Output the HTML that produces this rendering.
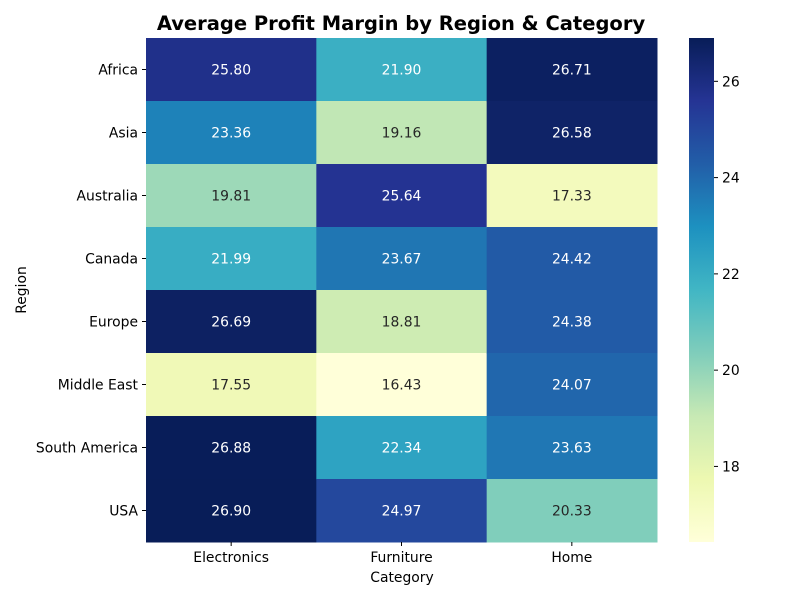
<!DOCTYPE html>
<html><head><meta charset="utf-8"><style>
body{margin:0;background:#fff;font-family:"Liberation Sans","DejaVu Sans",sans-serif;}
</style></head><body>
<svg id="chart" width="800" height="600" xmlns="http://www.w3.org/2000/svg" font-family="DejaVu Sans, Liberation Sans, sans-serif">
<defs><linearGradient id="cbgrad" x1="0" y1="1" x2="0" y2="0">
<stop offset="0" stop-color="#ffffd9"/><stop offset="0.125" stop-color="#edf8b1"/><stop offset="0.25" stop-color="#c7e9b4"/><stop offset="0.375" stop-color="#7fcdbb"/><stop offset="0.5" stop-color="#41b6c4"/><stop offset="0.625" stop-color="#1d91c0"/><stop offset="0.75" stop-color="#225ea8"/><stop offset="0.875" stop-color="#253494"/><stop offset="1" stop-color="#081d58"/>
</linearGradient></defs>
<text x="401" y="30" text-anchor="middle" font-size="19.5" font-weight="bold">Average Profit Margin by Region &amp; Category</text>
<g id="cells"></g>
<g id="xaxis"></g><g id="yaxis"></g>
<text x="402" y="582" text-anchor="middle" font-size="13.9">Category</text>
<text transform="translate(26,290) rotate(-90)" text-anchor="middle" font-size="13.9">Region</text>
<rect x="689" y="38" width="25" height="504" fill="url(#cbgrad)"/>
<g id="cbticks"></g>
</svg>
<script>
const categories=["Electronics","Furniture","Home"];
const regions=["Africa","Asia","Australia","Canada","Europe","Middle East","South America","USA"];
const electronics=[25.80,23.36,19.81,21.99,26.69,17.55,26.88,26.90];
const furniture=[21.90,19.16,25.64,23.67,18.81,16.43,22.34,24.97];
const home=[26.71,26.58,17.33,24.42,24.38,24.07,23.63,20.33];
const cbTicks=[18,20,22,24,26];
const series=[electronics,furniture,home];
const all=series.flat();
const vmin=Math.min(...all),vmax=Math.max(...all);
const X0=146,X1=657,Y0=38,Y1=542;
const cw=(X1-X0)/categories.length,ch=(Y1-Y0)/regions.length;
const stops=["#ffffd9","#edf8b1","#c7e9b4","#7fcdbb","#41b6c4","#1d91c0","#225ea8","#253494","#081d58"].map(h=>[1,3,5].map(i=>parseInt(h.substr(i,2),16)));
function cmap(v){let t=(v-vmin)/(vmax-vmin)*(stops.length-1);let i=Math.min(Math.floor(t),stops.length-2);let f=t-i;
return stops[i].map((c,k)=>Math.round(c+(stops[i+1][k]-c)*f));}
function lum(c){const l=c.map(x=>{x/=255;return x<=0.03928?x/12.92:Math.pow((x+0.055)/1.055,2.4)});return 0.2126*l[0]+0.7152*l[1]+0.0722*l[2];}
const NS="http://www.w3.org/2000/svg";
function el(t,a,p){const e=document.createElementNS(NS,t);for(const k in a)e.setAttribute(k,a[k]);p.appendChild(e);return e;}
const cells=document.getElementById('cells');
series.forEach((s,ci)=>s.forEach((v,ri)=>{
 const c=cmap(v);
 const r=el('rect',{x:X0+ci*cw,y:Y0+ri*ch,width:cw+0.5,height:ch+0.5,fill:`rgb(${c})`},cells);
 
 
 const t=el('text',{x:X0+(ci+0.5)*cw,y:Y0+(ri+0.5)*ch+5,'text-anchor':'middle','font-size':13.9,fill:lum(c)>0.408?'#262626':'#ffffff'},cells);
 t.textContent=v.toFixed(2);
 
 
}));
const xa=document.getElementById('xaxis');
categories.forEach((c,i)=>{const x=X0+(i+0.5)*cw;
 el('line',{x1:x,x2:x,y1:Y1,y2:Y1+4,stroke:'#000'},xa);
 const t=el('text',{x:x,y:Y1+20,'text-anchor':'middle','font-size':13.9},xa);t.textContent=c;
 
 });
const ya=document.getElementById('yaxis');
regions.forEach((r,i)=>{const y=Y0+(i+0.5)*ch;
 el('line',{x1:X0-4,x2:X0,y1:y,y2:y,stroke:'#000'},ya);
 const t=el('text',{x:X0-8,y:y+5,'text-anchor':'end','font-size':13.9},ya);t.textContent=r;
 
 });
const cb=document.getElementById('cbticks');
cbTicks.forEach(v=>{const y=Y1-(v-vmin)/(vmax-vmin)*(Y1-Y0);
 el('line',{x1:714,x2:718,y1:y,y2:y,stroke:'#000'},cb);
 const t=el('text',{x:722,y:y+5,'font-size':13.9},cb);t.textContent=v;
 
 });
</script>
</body></html>
